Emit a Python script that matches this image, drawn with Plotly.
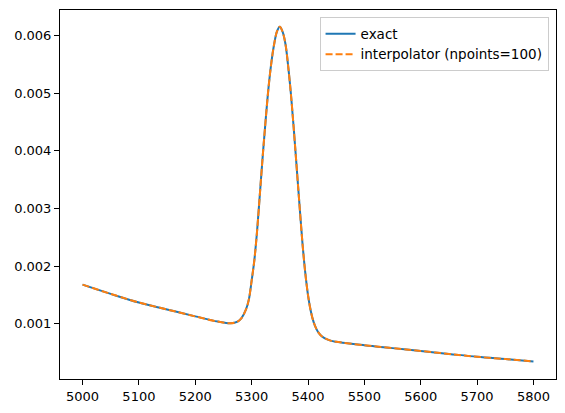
import plotly.graph_objects as go

# wavelength grid and profile
wave = [5000, 5050, 5100, 5150, 5200, 5240, 5263, 5275, 5282, 5290, 5295,
        5300, 5305, 5310, 5315, 5320, 5325, 5330, 5335, 5340, 5345, 5350,
        5355, 5360, 5365, 5370, 5375, 5380, 5385, 5390, 5395, 5400, 5405,
        5410, 5415, 5420, 5425, 5430, 5440, 5450, 5500, 5550, 5600, 5650,
        5700, 5750, 5800]
exact = [0.00168, 0.00152, 0.00137, 0.00125, 0.00113, 0.00104, 0.00101,
         0.00104, 0.00110, 0.00125, 0.00142, 0.00175, 0.00212, 0.00265,
         0.00330, 0.00395, 0.00455, 0.00510, 0.00553, 0.00585, 0.00607,
         0.00615, 0.00606, 0.00585, 0.00545, 0.00495, 0.00435, 0.00370,
         0.00305, 0.00242, 0.00190, 0.00150, 0.00122, 0.00103, 0.00091,
         0.00083, 0.00078, 0.00075, 0.00071, 0.00069, 0.00063, 0.00058,
         0.00053, 0.00048, 0.00043, 0.00039, 0.00035]
interp = list(exact)  # interpolated curve sits right on top of the exact one

xticks = [5000, 5100, 5200, 5300, 5400, 5500, 5600, 5700, 5800]
yticks = [0.001, 0.002, 0.003, 0.004, 0.005, 0.006]

fig = go.Figure()
fig.add_trace(go.Scatter(x=wave, y=exact, mode='lines', name='exact',
                         line=dict(color='#1f77b4', width=2, shape='spline')))
fig.add_trace(go.Scatter(x=wave, y=interp, mode='lines',
                         name='interpolator (npoints=100)',
                         line=dict(color='#ff7f0e', width=2, dash='7px,3px',
                                   shape='spline')))

axis = dict(showline=True, mirror=True, linecolor='black', linewidth=1,
            showgrid=False, zeroline=False, ticks='outside', ticklen=5,
            tickcolor='black', tickfont=dict(size=13, color='black'))
fig.update_xaxes(range=[4960, 5840], tickvals=xticks, **axis)
fig.update_yaxes(range=[0.000045, 0.00644], tickvals=yticks,
                 tickformat='.3f', **axis)

# page body adds 8px on the left/top, so the figure is made a bit smaller
fig.update_layout(
    width=557, height=405,
    margin=dict(l=52, r=9, t=2, b=34),
    plot_bgcolor='white', paper_bgcolor='white',
    font=dict(family='DejaVu Sans', size=13, color='black'),
    legend=dict(x=0.985, y=0.98, xanchor='right', yanchor='top',
                bordercolor='#cccccc', borderwidth=1, bgcolor='white',
                font=dict(size=13.5), tracegroupgap=0),
)

fig.write_html("out.html")
